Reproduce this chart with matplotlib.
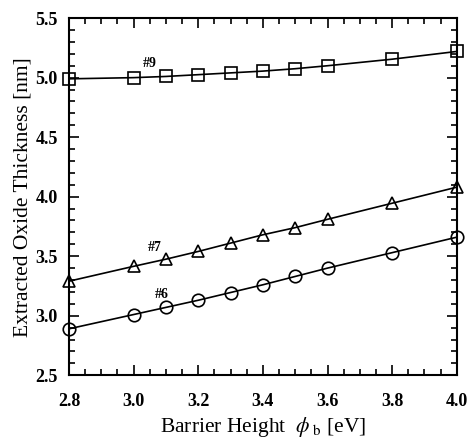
import matplotlib
matplotlib.use("Agg")
import matplotlib.pyplot as plt
from matplotlib.ticker import MultipleLocator

plt.rcParams['font.family'] = ['Liberation Serif', 'DejaVu Serif']
plt.rcParams['mathtext.fontset'] = 'stix'

barrier = [2.8, 3.0, 3.1, 3.2, 3.3, 3.4, 3.5, 3.6, 3.8, 4.0]
s9 = [4.99, 5.00, 5.01, 5.025, 5.04, 5.055, 5.075, 5.10, 5.155, 5.22]
s7 = [3.29, 3.415, 3.475, 3.54, 3.61, 3.68, 3.74, 3.81, 3.945, 4.08]
s6 = [2.89, 3.01, 3.07, 3.13, 3.195, 3.26, 3.33, 3.40, 3.53, 3.66]
labels = ["#9", "#7", "#6"]
label_pos = [(3.05, 5.12), (3.065, 3.57), (3.087, 3.18)]
xticks = [2.8, 3.0, 3.2, 3.4, 3.6, 3.8, 4.0]
yticks = [2.5, 3.0, 3.5, 4.0, 4.5, 5.0, 5.5]

fig = plt.figure(figsize=(4.69, 4.42), dpi=100)
ax = fig.add_axes([0.147, 0.151, 0.827, 0.808])

for ys, m in zip([s9, s7, s6], ['s', '^', 'o']):
    ax.plot(barrier, ys, color='black', lw=1.2, marker=m, markersize=9,
            markerfacecolor='none', markeredgecolor='black', markeredgewidth=1.2,
            clip_on=False)

for t, (x, y) in zip(labels, label_pos):
    ax.text(x, y, t, fontsize=10, fontweight='bold', ha='center', va='center')

ax.set_xlim(2.8, 4.0)
ax.set_ylim(2.5, 5.5)
ax.xaxis.set_minor_locator(MultipleLocator(0.05))
ax.yaxis.set_minor_locator(MultipleLocator(0.1))
ax.tick_params(which='both', direction='in', top=True, right=True, width=1.2)
ax.tick_params(which='major', length=7, labelsize=13)
ax.tick_params(axis='x', which='major', pad=13)
ax.tick_params(axis='y', which='major', pad=8)
ax.tick_params(which='minor', length=4)
ax.set_xticks(xticks)
ax.set_xticklabels([f"{v:.1f}" for v in xticks], fontweight='bold')
ax.set_yticks(yticks)
ax.set_yticklabels([f"{v:.1f}" for v in yticks], fontweight='bold')
for sp in ax.spines.values():
    sp.set_linewidth(1.5)

ax.set_xlabel(r"Barrier Height  $\phi_{\ \mathrm{b}}$ [eV]", fontsize=15.5)
ax.xaxis.set_label_coords(0.5, -0.11, transform=ax.transAxes)
ax.set_ylabel("Extracted Oxide Thickness [nm]", fontsize=15.5)
ax.yaxis.set_label_coords(-0.095, 0.5, transform=ax.transAxes)

fig.savefig("out.png", dpi=100)
